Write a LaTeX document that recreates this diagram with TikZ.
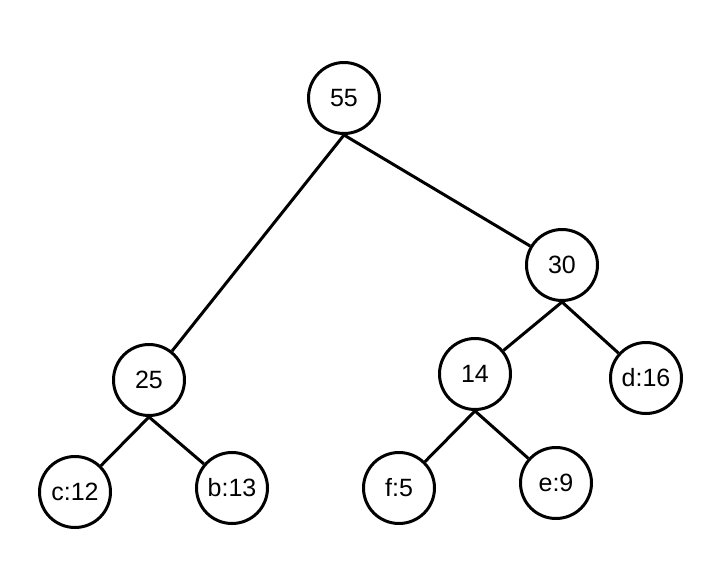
\documentclass[tikz,border=0pt]{standalone}
\usepackage{fontspec}
\setmainfont{Liberation Sans}
\begin{document}
\begin{tikzpicture}[x=1pt,y=-1pt,
  tn/.style={circle,draw,line width=3pt,minimum size=71pt,inner sep=0pt,font=\fontsize{25}{27}\selectfont},
  ed/.style={line width=3pt}]
\useasboundingbox[fill=white] (0,0) rectangle (724,576);
\node[tn] (n55) at (344,98) {55};
\node[tn] (n30) at (562,265) {30};
\node[tn] (n25) at (149,380) {25};
\node[tn] (n14) at (475,374) {14};
\node[tn] (d) at (646,378) {d:16};
\node[tn] (c) at (75,492) {c:12};
\node[tn] (b) at (232,488) {b:13};
\node[tn] (f) at (399,488) {f:5};
\node[tn] (e) at (556,483) {e:9};
\draw[ed] (n55.south) -- (n25);
\draw[ed] (n55.south) -- (n30);
\draw[ed] (n30.south) -- (n14);
\draw[ed] (n30.south) -- (d);
\draw[ed] (n25.south) -- (c);
\draw[ed] (n25.south) -- (b);
\draw[ed] (n14.south) -- (f);
\draw[ed] (n14.south) -- (e);
\end{tikzpicture}
\end{document}
